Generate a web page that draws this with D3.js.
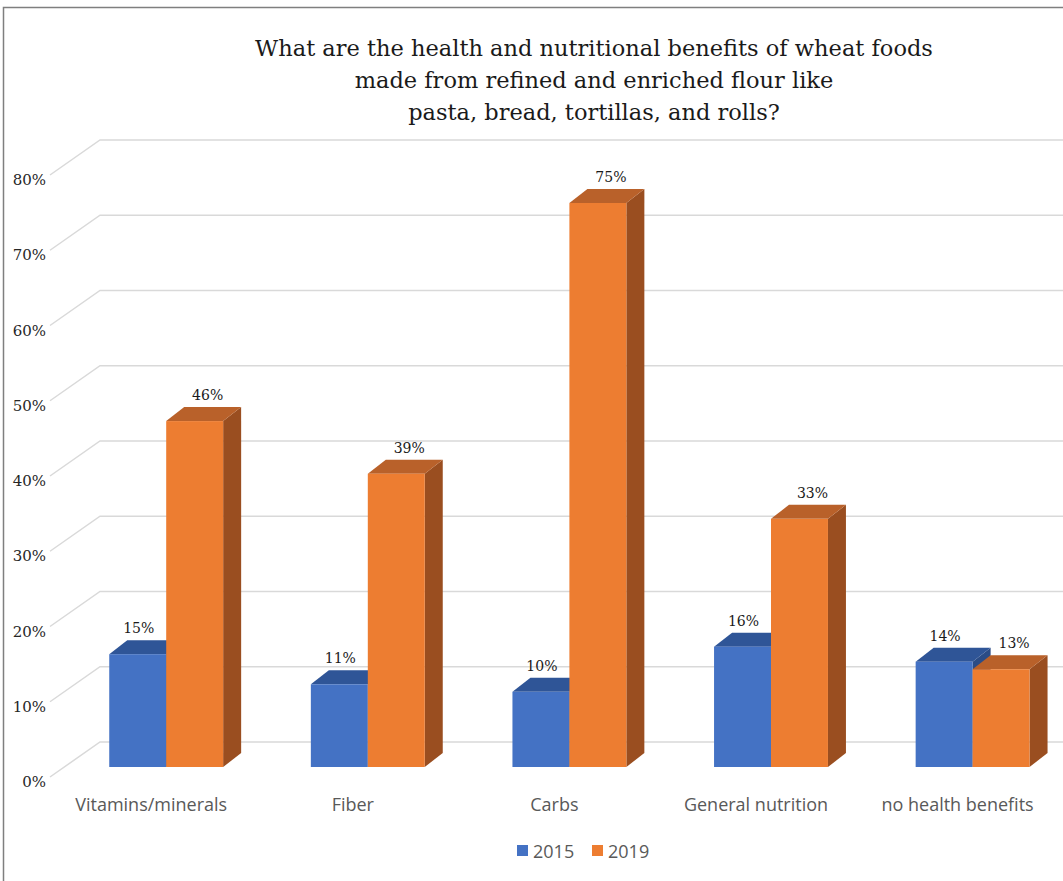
<!DOCTYPE html>
<html><head><meta charset="utf-8">
<script src="https://cdn.jsdelivr.net/npm/d3@7"></script>
<style>body{margin:0;background:#fff;}svg{display:block;}</style>
</head><body><svg id="c" width="1063" height="881"></svg>
<script>
const categories = ["Vitamins/minerals", "Fiber", "Carbs", "General nutrition", "no health benefits"];
const seriesNames = ["2015", "2019"];
const values2015 = [0.15, 0.11, 0.10, 0.16, 0.14];
const values2019 = [0.46, 0.39, 0.75, 0.33, 0.13];
const yTicks = [0, 0.1, 0.2, 0.3, 0.4, 0.5, 0.6, 0.7, 0.8];
const titleLines = ["What are the health and nutritional benefits of wheat foods", "made from refined and enriched flour like", "pasta, bread, tortillas, and rolls?"];
const colors = {
  "2015": {front: "#4472C4", top: "#2F5597", side: "#2B4C86"},
  "2019": {front: "#ED7D31", top: "#B9612A", side: "#9A4E20"}
};
const serif = "DejaVu Serif, serif";
const sans = "Open Sans, sans-serif";

const svg = d3.select("#c");
// outer border
svg.append("rect").attr("x", 3.5).attr("y", 7.5).attr("width", 1200).attr("height", 1000)
  .attr("fill", "none").attr("stroke", "#7f7f7f").attr("stroke-width", 1.5);

// title
svg.append("g").selectAll("text").data(titleLines).join("text")
  .attr("x", 594).attr("y", (d, i) => 56 + i * 32)
  .attr("text-anchor", "middle")
  .attr("font-family", serif).attr("font-size", 22.5).attr("fill", "#1a1a1a")
  .text(d => d);

// scales
const yFront = d3.scaleLinear().domain([0, 0.8]).range([767, 767 - 0.8 * 752]);
const yBack = d3.scaleLinear().domain([0, 0.8]).range([742, 140]);
const wallLeft = 100, wallDX = 50, wallDY = 35;
const depthX = 18, depthY = -14;
const x0 = d3.scaleBand().domain(categories).range([65.4, 1073.4]).paddingInner(0.435).paddingOuter(0.2175);
const x1 = d3.scaleBand().domain(seriesNames).range([0, x0.bandwidth()]).padding(0);

// gridlines
const grid = svg.append("g");
grid.selectAll("path").data(yTicks).join("path")
  .attr("d", d => `M${wallLeft - wallDX},${yBack(d) + wallDY}L${wallLeft},${yBack(d)}L1070,${yBack(d)}`)
  .attr("fill", "none").attr("stroke", "#d9d9d9").attr("stroke-width", 1.5);

// tick labels
svg.append("g").selectAll("text").data(yTicks).join("text")
  .attr("x", 46).attr("y", d => yBack(d) + wallDY + 10)
  .attr("text-anchor", "end")
  .attr("font-family", serif).attr("font-size", 15).attr("fill", "#262626")
  .text(d3.format(".0%"));

// bars
const data = [];
categories.forEach((c, i) => {
  data.push({cat: c, s: "2015", v: values2015[i]});
  data.push({cat: c, s: "2019", v: values2019[i]});
});
const bw = x1.bandwidth();
const bars = svg.append("g");
data.forEach(d => {
  const xl = x0(d.cat) + x1(d.s), xr = xl + bw;
  const yt = yFront(d.v), yb = yFront(0);
  const g = bars.append("g");
  const c = colors[d.s];
  g.append("path").attr("d", `M${xr},${yt}L${xr + depthX},${yt + depthY}L${xr + depthX},${yb + depthY}L${xr},${yb}Z`).attr("fill", c.side);
  g.append("path").attr("d", `M${xl},${yt}L${xl + depthX},${yt + depthY}L${xr + depthX},${yt + depthY}L${xr},${yt}Z`).attr("fill", c.top);
  g.append("rect").attr("x", xl).attr("y", yt).attr("width", bw).attr("height", yb - yt).attr("fill", c.front);
});
// value labels
svg.append("g").selectAll("text").data(data).join("text")
  .attr("x", d => x0(d.cat) + x1(d.s) + bw / 2 + (d.s === "2019" ? 13 : 1))
  .attr("y", d => yFront(d.v) - 21)
  .attr("text-anchor", "middle")
  .attr("font-family", serif).attr("font-size", 14).attr("fill", "#1a1a1a")
  .text(d => d3.format(".0%")(d.v));

// category labels
svg.append("g").selectAll("text").data(categories).join("text")
  .attr("x", d => x0(d) + x0.bandwidth() / 2 - 15).attr("y", 811)
  .attr("text-anchor", "middle")
  .attr("font-family", sans).attr("font-size", 18).attr("fill", "#595959")
  .text(d => d);

// legend
const legend = svg.append("g");
const legX = [517, 592];
seriesNames.forEach((s, i) => {
  legend.append("rect").attr("x", legX[i]).attr("y", 845).attr("width", 11).attr("height", 11).attr("fill", colors[s].front);
  legend.append("text").attr("x", legX[i] + 16).attr("y", 858)
    .attr("font-family", sans).attr("font-size", 18).attr("fill", "#595959").text(s);
});
</script></body></html>
